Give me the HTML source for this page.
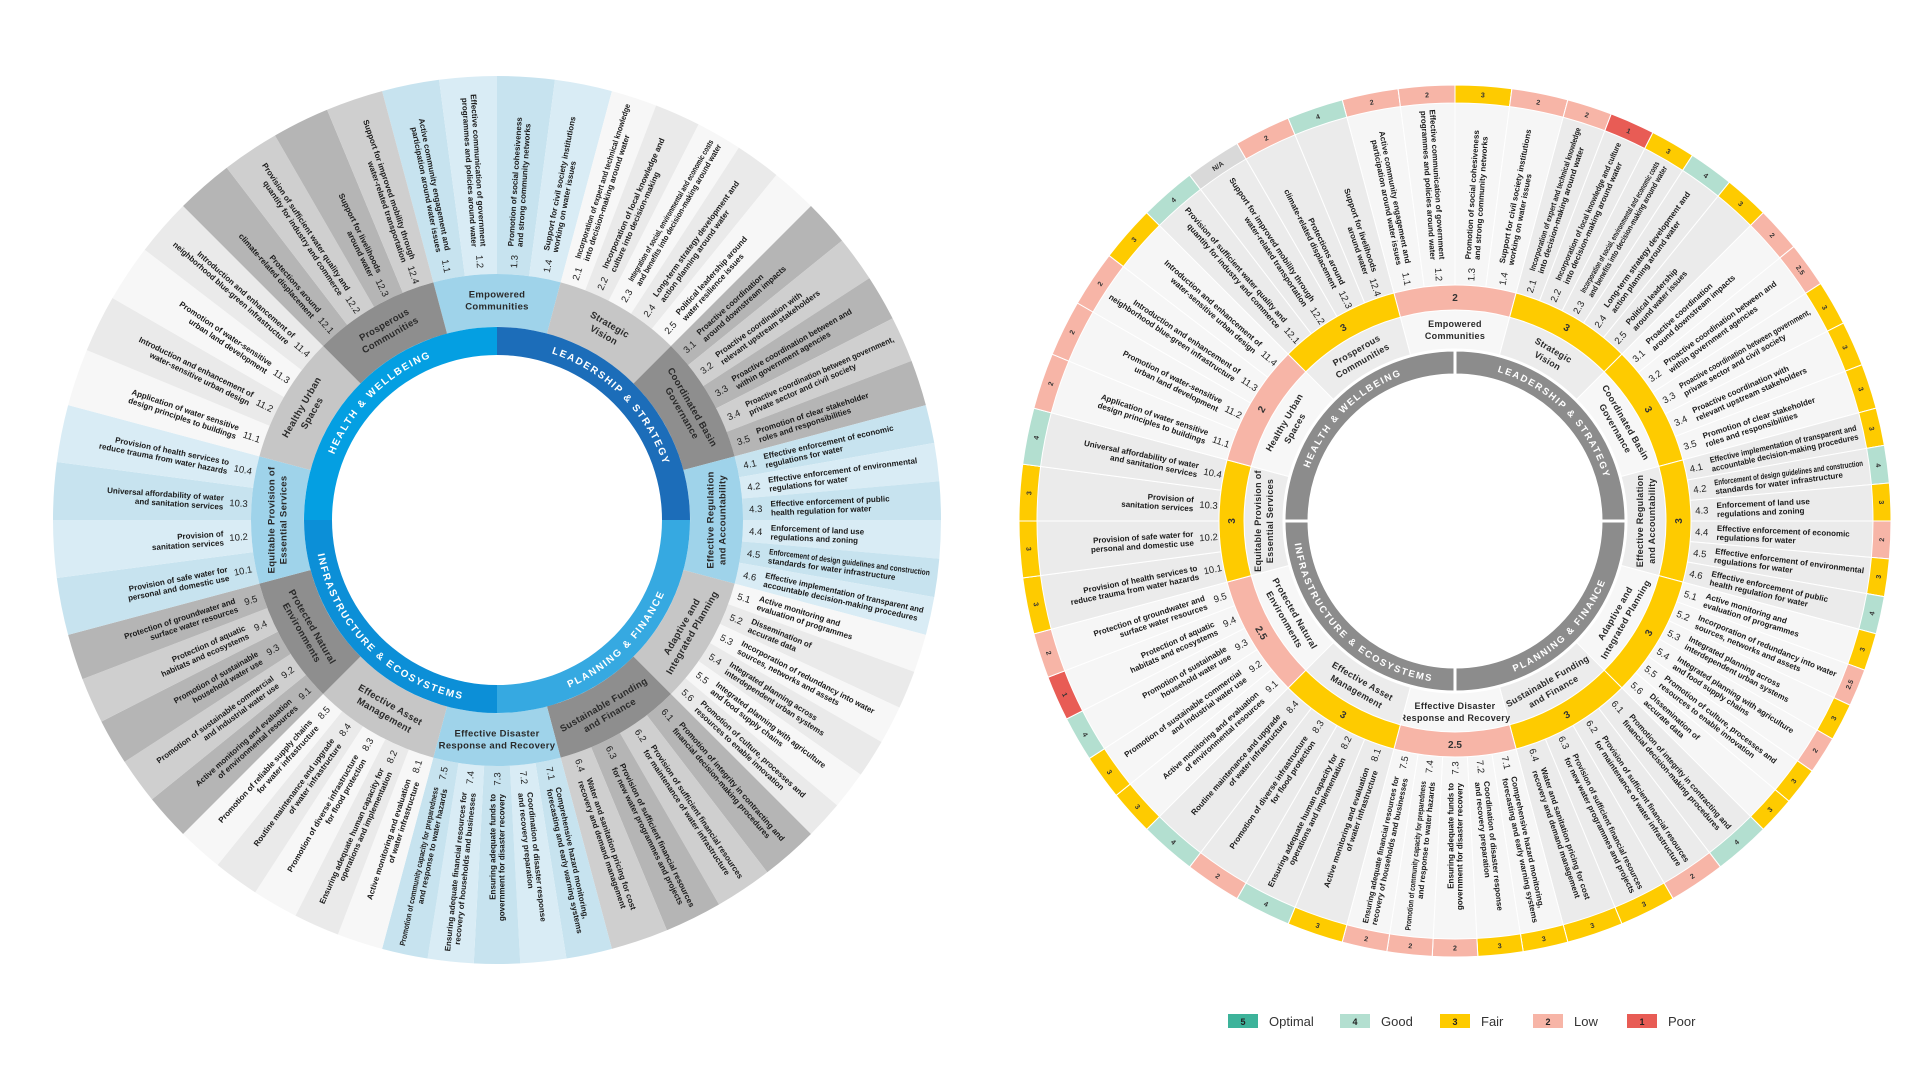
<!DOCTYPE html>
<html><head><meta charset="utf-8"><title>Water resilience wheels</title>
<style>
html,body{margin:0;padding:0;background:#fff;}
#wrap{position:relative;width:1920px;height:1080px;overflow:hidden;background:#fff;font-family:"Liberation Sans",sans-serif;}
svg text{font-family:"Liberation Sans Narrow","Liberation Sans",sans-serif;}
</style></head>
<body>
<div id="wrap">
<svg id="chart" width="1920" height="1080" viewBox="0 0 1920 1080" xmlns="http://www.w3.org/2000/svg">
  <g id="left"></g>
  <g id="right"></g>
  <g id="legend"></g>
</svg>
</div>
<script>
const subNames = ["Empowered|Communities","Strategic|Vision","Coordinated Basin|Governance","Effective Regulation|and Accountability","Adaptive and|Integrated Planning","Sustainable Funding|and Finance","Effective Disaster|Response and Recovery","Effective Asset|Management","Protected Natural|Environments","Equitable Provision of|Essential Services","Healthy Urban|Spaces","Prosperous|Communities"];
const pillarNames = ["LEADERSHIP & STRATEGY","PLANNING & FINANCE","INFRASTRUCTURE & ECOSYSTEMS","HEALTH & WELLBEING"];
const leftPillarColors = ["#1c6db9","#36a9e1","#0c8fd7","#049fe2"];
const leftCounts = [4,5,5,6,6,4,5,5,5,4,4,4];
const rightCounts = [4,5,5,6,6,4,5,4,5,4,4,4];
const leftLabels = [
"Active community engagement and participation around water issues","Effective communication of government programmes and policies around water","Promotion of social cohesiveness and strong community networks","Support for civil society institutions working on water issues",
"Incorporation of expert and technical knowledge into decision-making around water","Incorporation of local knowledge and culture into decision-making","Integration of social, environmental and economic costs and benefits into decision-making around water","Long-term strategy development and action planning around water","Political leadership around water resilience issues",
"Proactive coordination around downstream impacts","Proactive coordination with relevant upstream stakeholders","Proactive coordination between and within government agencies","Proactive coordination between government, private sector and civil society","Promotion of clear stakeholder roles and responsibilities",
"Effective enforcement of economic regulations for water","Effective enforcement of environmental regulations for water","Effective enforcement of public health regulation for water","Enforcement of land use regulations and zoning","Enforcement of design guidelines and construction standards for water infrastructure","Effective implementation of transparent and accountable decision-making procedures",
"Active monitoring and evaluation of programmes","Dissemination of accurate data","Incorporation of redundancy into water sources, networks and assets","Integrated planning across interdependent urban systems","Integrated planning with agriculture and food supply chains","Promotion of culture, processes and resources to enable innovation",
"Promotion of integrity in contracting and financial decision-making procedures","Provision of sufficient financial resources for maintenance of water infrastructure","Provision of sufficient financial resources for new water programmes and projects","Water and sanitation pricing for cost recovery and demand management",
"Comprehensive hazard monitoring, forecasting and early warning systems","Coordination of disaster response and recovery preparation","Ensuring adequate funds to government for disaster recovery","Ensuring adequate financial resources for recovery of households and businesses","Promotion of community capacity for preparedness and response to water hazards",
"Active monitoring and evaluation of water infrastructure","Ensuring adequate human capacity for operations and implementation","Promotion of diverse infrastructure for flood protection","Routine maintenance and upgrade of water infrastructure","Promotion of reliable supply chains for water infrastructure",
"Active monitoring and evaluation of environmental resources","Promotion of sustainable commercial and industrial water use","Promotion of sustainable household water use","Protection of aquatic habitats and ecosystems","Protection of groundwater and surface water resources",
"Provision of safe water for personal and domestic use","Provision of sanitation services","Universal affordability of water and sanitation services","Provision of health services to reduce trauma from water hazards",
"Application of water sensitive design principles to buildings","Introduction and enhancement of water-sensitive urban design","Promotion of water-sensitive urban land development","Introduction and enhancement of neighborhood blue-green infrastructure",
"Protections around climate-related displacement","Provision of sufficient water quality and quantity for industry and commerce","Support for livelihoods around water","Support for improved mobility through water-related transportation"];
const rightLabels = [
"Active community engagement and participation around water issues","Effective communication of government programmes and policies around water","Promotion of social cohesiveness and strong community networks","Support for civil society institutions working on water issues",
"Incorporation of expert and technical knowledge into decision-making around water","Incorporation of local knowledge and culture into decision-making around water","Incorporation of social, environmental and economic costs and benefits into decision-making around water","Long-term strategy development and action planning around water","Political leadership around water issues",
"Proactive coordination around downstream impacts","Proactive coordination between and within government agencies","Proactive coordination between government, private sector and civil society","Proactive coordination with relevant upstream stakeholders","Promotion of clear stakeholder roles and responsibilities",
"Effective implementation of transparent and accountable decision-making procedures","Enforcement of design guidelines and construction standards for water infrastructure","Enforcement of land use regulations and zoning","Effective enforcement of economic regulations for water","Effective enforcement of environmental regulations for water","Effective enforcement of public health regulation for water",
"Active monitoring and evaluation of programmes","Incorporation of redundancy into water sources, networks and assets","Integrated planning across interdependent urban systems","Integrated planning with agriculture and food supply chains","Promotion of culture, processes and resources to enable innovation","Dissemination of accurate data",
"Promotion of integrity in contracting and financial decision-making procedures","Provision of sufficient financial resources for maintenance of water infrastructure","Provision of sufficient financial resources for new water programmes and projects","Water and sanitation pricing for cost recovery and demand management",
"Comprehensive hazard monitoring, forecasting and early warning systems","Coordination of disaster response and recovery preparation","Ensuring adequate funds to government for disaster recovery","Promotion of community capacity for preparedness and response to water hazards","Ensuring adequate financial resources for recovery of households and businesses",
"Active monitoring and evaluation of water infrastructure","Ensuring adequate human capacity for operations and implementation","Promotion of diverse infrastructure for flood protection","Routine maintenance and upgrade of water infrastructure",
"Active monitoring and evaluation of environmental resources","Promotion of sustainable commercial and industrial water use","Promotion of sustainable household water use","Protection of aquatic habitats and ecosystems","Protection of groundwater and surface water resources",
"Provision of health services to reduce trauma from water hazards","Provision of safe water for personal and domestic use","Provision of sanitation services","Universal affordability of water and sanitation services",
"Application of water sensitive design principles to buildings","Promotion of water-sensitive urban land development","Introduction and enhancement of neighborhood blue-green infrastructure","Introduction and enhancement of water-sensitive urban design",
"Provision of sufficient water quality and quantity for industry and commerce","Support for improved mobility through water-related transportation","Protections around climate-related displacement","Support for livelihoods around water"];
const subScores = [2,3,3,3,3,3,2.5,3,2.5,3,2,3];
const indicatorScores = [2,2,3,2, 2,1,3,4,3, 2,2.5,3,3,3, 3,4,3,2,3,4, 3,2.5,3,2,3,3, 4,2,3,3, 3,3,2,2,2, 3,4,2,4, 3,3,4,1,2, 3,3,3,4, 2,2,2,3, 4,"N/A",2,4];
const legendValues = [5,4,3,2,1];
const legendNames = ["Optimal","Good","Fair","Low","Poor"];

const NS = "http://www.w3.org/2000/svg";
function mk(tag, parent, attrs){const e=document.createElementNS(NS,tag);for(const k in attrs)e.setAttribute(k,attrs[k]);parent.appendChild(e);return e;}
function P(cx,cy,r,a){const t=a*Math.PI/180;return [cx+r*Math.sin(t),cy-r*Math.cos(t)];}
function sector(cx,cy,r0,r1,a0,a1){const l=(a1-a0)>180?1:0;const A=P(cx,cy,r1,a0),B=P(cx,cy,r1,a1),C=P(cx,cy,r0,a1),D=P(cx,cy,r0,a0);
return `M${A[0]},${A[1]}A${r1},${r1} 0 ${l} 1 ${B[0]},${B[1]}L${C[0]},${C[1]}A${r0},${r0} 0 ${l} 0 ${D[0]},${D[1]}Z`;}
function tangRot(a){a=((a%360)+360)%360;if(a<90)return a;if(a<270)return a-180;return a-360;}
function scoreColor(s){if(s==="N/A")return "#d9d9d9";if(s>=5)return "#3db39a";if(s>=4)return "#b3dfd0";if(s>=3)return "#fecb00";if(s>=2)return "#f7b5a7";return "#e85c55";}
function split2(s){const w=s.split(" ");if(w.length<3)return [s];let best=1,bd=1e9;const tot=s.length;let acc=0;
for(let i=1;i<w.length;i++){acc+=w[i-1].length+1;const d=Math.abs(acc-tot*0.55);if(d<bd){bd=d;best=i;}}
return [w.slice(0,best).join(" "),w.slice(best).join(" ")];}
function fitText(t,maxW){try{const L=t.getComputedTextLength();if(L>maxW){t.setAttribute("textLength",maxW);t.setAttribute("lengthAdjust","spacingAndGlyphs");}}catch(e){}}

function drawWheel(g,o){
  const cx=o.cx,cy=o.cy,counts=o.counts,labels=o.labels;
  // indicator sectors
  let k=0;
  for(let s=0;s<12;s++){
    const a0=-15+s*30,n=counts[s],step=30/n;
    for(let j=0;j<n;j++){
      const b0=a0+j*step,b1=b0+step,am=(b0+b1)/2;
      const p=mk("path",g,{d:sector(cx,cy,o.rSub1,o.rOut,b0,b1),fill:o.sliceFill(s,j),stroke:o.sliceStroke,"stroke-width":o.sliceStrokeW});
      
      
      const id=(s+1)+"."+(j+1);
      const right=((am%360)+360)%360<180;
      const rot=right?am-90:am+90;
      const sign=right?1:-1;
      const gt=mk("g",g,{transform:`translate(${cx},${cy}) rotate(${rot})`});
      
      
      const num=mk("text",gt,{x:sign*o.rNum,y:3.5,"text-anchor":"middle","font-size":o.numSize,fill:"#222"});
      num.textContent=id;
      const lines=split2(labels[k]);
      lines.forEach((ln,li)=>{
        const y=(lines.length===1?0:(li===0?-o.lh/2:o.lh/2))+3;
        const t=mk("text",gt,{x:sign*o.rText,y:y,"text-anchor":right?"start":"end","font-size":o.labSize,"font-weight":"bold",fill:"#1a1a1a"});
        t.textContent=ln;
        fitText(t,o.maxW);
      });
      if(o.outerScores){
        const sc=o.outerScores[k];
        const ob=mk("path",g,{d:sector(cx,cy,o.rBox0,o.rBox1,b0,b1),fill:scoreColor(sc),stroke:"#fff","stroke-width":1});
        
        
        const q=P(cx,cy,(o.rBox0+o.rBox1)/2,am);
        const st=mk("text",g,{x:q[0],y:q[1]+2.5,"text-anchor":"middle","font-size":7,"font-weight":"bold",fill:"#333",transform:`rotate(${tangRot(am)} ${q[0]} ${q[1]})`});
        st.textContent=sc;
      }
      k++;
    }
  }
  // sub-pillar ring
  for(let s=0;s<12;s++){
    const a0=-15+s*30,a1=a0+30,am=a0+15;
    const p=mk("path",g,{d:sector(cx,cy,o.rSub0,o.rSubTop,a0,a1),fill:o.subFill(s),stroke:o.subStroke,"stroke-width":o.subStrokeW});
    
    
    const q=P(cx,cy,(o.rSub0+o.rSubTop)/2,am);
    const lines=subNames[s].split("|");
    const gt=mk("g",g,{transform:`translate(${q[0]},${q[1]}) rotate(${tangRot(am)})`});
    
    
    lines.forEach((ln,li)=>{const t=mk("text",gt,{x:0,y:(li===0?-3:9),"text-anchor":"middle","font-size":o.subSize,"font-weight":"bold",fill:"#2a2a2a","letter-spacing":"0.3"});t.textContent=ln;});
    if(o.subScores){
      const sp=mk("path",g,{d:sector(cx,cy,o.rSubTop,o.rSub1,a0,a1),fill:scoreColor(o.subScores[s]),stroke:"#fff","stroke-width":1});
      
      
      const r=(o.rSubTop+o.rSub1)/2,qq=P(cx,cy,r,am);
      const st=mk("text",g,{x:qq[0],y:qq[1]+3.5,"text-anchor":"middle","font-size":10,"font-weight":"bold",fill:"#333",transform:`rotate(${tangRot(am)} ${qq[0]} ${qq[1]})`});
      st.textContent=o.subScores[s];
    }
  }
  // pillar ring
  const defs=mk("defs",g,{});
  for(let p=0;p<4;p++){
    const a0=p*90,a1=a0+90;
    const pp=mk("path",g,{d:sector(cx,cy,o.rIn,o.rSub0,a0,a1),fill:o.pillarFill(p),stroke:o.pillarStroke,"stroke-width":o.pillarStrokeW});
    
    
    const rm=(o.rIn+o.rSub0)/2;
    const top=(p===0||p===3);
    const rr=top?rm-o.pSize*0.36:rm+o.pSize*0.36;
    const A=P(cx,cy,rr,a0+3),B=P(cx,cy,rr,a1-3);
    const pid=o.id+"-parc"+p;
    mk("path",defs,{id:pid,d:top?`M${A[0]},${A[1]}A${rr},${rr} 0 0 1 ${B[0]},${B[1]}`:`M${B[0]},${B[1]}A${rr},${rr} 0 0 0 ${A[0]},${A[1]}`,fill:"none"});
    const t=mk("text",g,{"font-size":o.pSize,"font-weight":"bold",fill:"#fff","letter-spacing":"1.6"});
    
    
    const tp=mk("textPath",t,{href:"#"+pid,startOffset:"50%","text-anchor":"middle"});
    tp.textContent=pillarNames[p];
  }
}

const leftTypes=["b","l","d"];
drawWheel(document.getElementById("left"),{
  id:"L",cx:497,cy:520,rIn:165,rSub0:193,rSubTop:246,rSub1:246,rOut:444,
  counts:leftCounts,labels:leftLabels,rNum:259,rText:274,maxW:162,lh:9,labSize:8,numSize:9.5,subSize:9.5,pSize:10,
  sliceFill:(s,j)=>{const t=leftTypes[s%3];const c={b:["#c7e3ef","#d9ecf5"],l:["#f7f7f7","#eaeaea"],d:["#b5b5b5","#cfcfcf"]}[t];return c[j%2];},
  sliceStroke:"none",sliceStrokeW:0,
  subFill:s=>({b:"#9fd3ea",l:"#c6c6c6",d:"#8e8e8e"})[leftTypes[s%3]],subStroke:"none",subStrokeW:0,
  pillarFill:p=>leftPillarColors[p],pillarStroke:"none",pillarStrokeW:0
});
drawWheel(document.getElementById("right"),{
  id:"R",cx:1455,cy:521,rIn:146,rSub0:171,rSubTop:211,rSub1:236,rOut:436,rBox0:418,rBox1:436,
  counts:rightCounts,labels:rightLabels,rNum:247,rText:262,maxW:150,lh:9,labSize:8,numSize:9.5,subSize:9,pSize:9.5,
  outerScores:indicatorScores,subScores:subScores,
  sliceFill:(s)=>s%2===0?"#f6f6f6":"#ebebeb",sliceStroke:"#fff",sliceStrokeW:1,
  subFill:s=>s%2===0?"#f7f7f7":"#ececec",subStroke:"#fff",subStrokeW:1,
  pillarFill:()=>"#8c8c8c",pillarStroke:"#fff",pillarStrokeW:3
});

// legend
const lg=document.getElementById("legend");
const legX=[1228,1340,1440,1533,1627];
legendValues.forEach((v,i)=>{
  const r=mk("rect",lg,{x:legX[i],y:1014,width:30,height:14,fill:scoreColor(v)});
  
  
  const n=mk("text",lg,{x:legX[i]+15,y:1025,"text-anchor":"middle","font-size":9,"font-weight":"bold",fill:"#222"});
  n.textContent=v;
  const t=mk("text",lg,{x:legX[i]+41,y:1026,"font-size":13,fill:"#333",style:"font-family:'Liberation Sans',sans-serif"});
  
  
  t.textContent=legendNames[i];
});
</script>
</body></html>
